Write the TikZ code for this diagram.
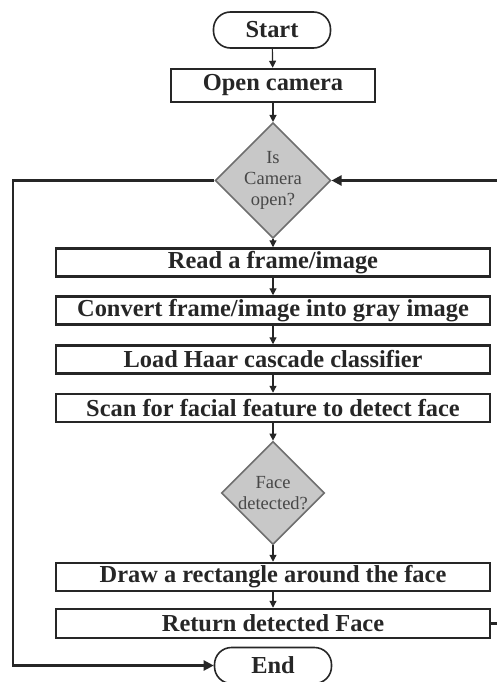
\documentclass[tikz,border=0pt]{standalone}
\usepackage{fontspec}
\setmainfont{Liberation Serif}
\usetikzlibrary{shapes.geometric,arrows.meta}
\definecolor{ink}{HTML}{262626}
\definecolor{dfill}{HTML}{C8C8C8}
\definecolor{dline}{HTML}{6E6E6E}
\tikzset{
  procbox/.style={draw=ink,line width=2.5pt,minimum width=434pt,minimum height=28pt,inner sep=0pt,
    font=\fontsize{24.4}{27}\selectfont\bfseries,text=ink},
  termbox/.style={draw=ink,line width=1.6pt,rounded corners=17pt,minimum width=117pt,minimum height=36pt,inner sep=0pt,
    font=\fontsize{24.4}{27}\selectfont\bfseries,text=ink},
  decbox/.style={diamond,draw=dline,fill=dfill,line width=1.5pt,aspect=1,minimum size=103pt,inner sep=0pt,
    font=\fontsize{18.5}{21}\selectfont,text=ink!85,align=center},
  flow/.style={draw=ink,line width=1.2pt,-{Triangle[length=7pt,width=7pt]}},
  loop/.style={draw=ink,line width=2.3pt},
  looparrow/.style={draw=ink,line width=2.3pt,-{Triangle[length=10pt,width=10pt]}}
}
\begin{document}
\begin{tikzpicture}[x=1pt,y=-1pt]
\useasboundingbox (0,0) rectangle (496,682);
\node[termbox] (start) at (272,30) {Start};
\node[procbox,minimum width=204pt,minimum height=33pt] (open) at (273,85.5) {Open camera};
\node[decbox] (dec1) at (273,180.5) {Is\\Camera\\open?};
\node[procbox] (read) at (273,262.5) {Read a frame/image};
\node[procbox] (conv) at (273,310.5) {Convert frame/image into gray image};
\node[procbox] (load) at (273,359.5) {Load Haar cascade classifier};
\node[procbox] (scan) at (273,408) {Scan for facial feature to detect face};
\node[decbox] (dec2) at (273,493) {Face\\detected?};
\node[procbox] (draw) at (273,577) {Draw a rectangle around the face};
\node[procbox,minimum height=29pt] (ret) at (273,623.5) {Return detected Face};
\node[termbox] (end) at (273,665.5) {End};
\coordinate (L1) at (13,180.5);
\coordinate (L2) at (13,665.5);
\coordinate (R1) at (497,180.5);
\coordinate (R2) at (497,623.5);
\draw[flow] (start) -- (open);
\draw[flow] (open) -- (dec1);
\draw[flow] (dec1) -- (read);
\draw[flow] (read) -- (conv);
\draw[flow] (conv) -- (load);
\draw[flow] (load) -- (scan);
\draw[flow] (scan) -- (dec2);
\draw[flow] (dec2) -- (draw);
\draw[flow] (draw) -- (ret);
\draw[looparrow] (dec1.west) -- (L1) -- (L2) -- (end.west);
\draw[looparrow] (R1) -- (dec1.east);
\draw[loop] (ret.east) -- (R2);
\end{tikzpicture}
\end{document}
